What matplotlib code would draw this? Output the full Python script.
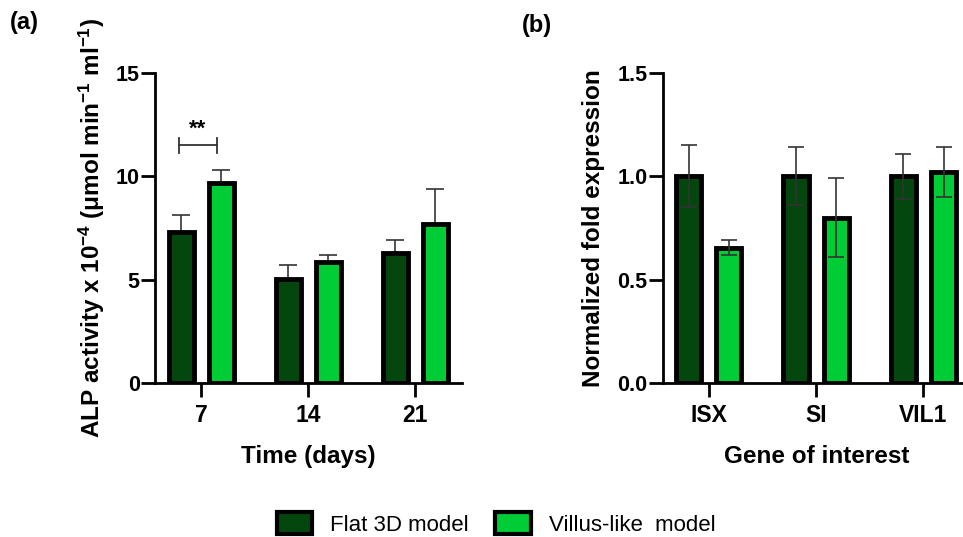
import numpy as np
import matplotlib
matplotlib.use("Agg")
import matplotlib.pyplot as plt
from matplotlib.patches import Patch

plt.rcParams['font.family'] = ['Liberation Sans', 'DejaVu Sans']
plt.rcParams['mathtext.fontset'] = 'custom'
plt.rcParams['mathtext.rm'] = 'Liberation Sans:bold'
plt.rcParams['mathtext.it'] = 'Liberation Sans:bold'
plt.rcParams['mathtext.bf'] = 'Liberation Sans:bold'
plt.rcParams['mathtext.default'] = 'rm'

# panel (a): ALP activity
days = ['7', '14', '21']
alp_flat = [7.3, 5.03, 6.3]
alp_flat_err = [0.85, 0.68, 0.62]
alp_villus = [9.7, 5.85, 7.7]
alp_villus_err = [0.62, 0.32, 1.7]

# panel (b): gene expression
genes = ['ISX', 'SI', 'VIL1']
gene_flat = [1.0, 1.0, 1.0]
gene_flat_err = [0.15, 0.14, 0.11]
gene_villus = [0.655, 0.80, 1.02]
gene_villus_err = [0.035, 0.19, 0.12]

dark = '#03470f'
light = '#00cc35'
labels = ['Flat 3D model', 'Villus-like  model']

fig = plt.figure(figsize=(9.63, 5.37), dpi=100)
ax1 = fig.add_axes([0.161, 0.2868, 0.319, 0.5773])
ax2 = fig.add_axes([0.688, 0.2868, 0.320, 0.5773])

off = 0.187
w = 0.234


def style(ax):
    for s in ['top', 'right']:
        ax.spines[s].set_visible(False)
    for s in ['left', 'bottom']:
        ax.spines[s].set_linewidth(2)
    ax.tick_params(width=2, length=10)
    ax.tick_params(axis='x', pad=5, labelsize=16.5)
    ax.tick_params(axis='y', pad=1, labelsize=15.5)
    for t in ax.get_xticklabels() + ax.get_yticklabels():
        t.set_fontweight('bold')
    ax.set_xlim(-0.43, 2.44)


x = np.arange(len(days))
ax1.bar(x - off, alp_flat, w, color=dark, edgecolor='black', linewidth=3.5, zorder=2)
ax1.bar(x + off, alp_villus, w, color=light, edgecolor='black', linewidth=3.5, zorder=2)
ax1.errorbar(x - off, alp_flat, yerr=[np.zeros(3), alp_flat_err], fmt='none',
             ecolor='#333333', elinewidth=1.2, capsize=6.5, capthick=1.2, zorder=1)
ax1.errorbar(x + off, alp_villus, yerr=[np.zeros(3), alp_villus_err], fmt='none',
             ecolor='#333333', elinewidth=1.2, capsize=6.5, capthick=1.2, zorder=1)
ax1.set_ylim(0, 15)
ax1.set_yticks([0, 5, 10, 15])
ax1.set_xticks(x)
ax1.set_xticklabels(days)
style(ax1)
ax1.set_xlabel('Time (days)', fontsize=17.5, fontweight='bold', labelpad=13)
ax1.set_ylabel('ALP activity x 10$^{-4}$ ($\\mu$mol min$^{-1}$ ml$^{-1}$)',
               fontsize=17.5, fontweight='bold', labelpad=6)

# significance bracket
ax1.plot([-0.21, 0.15], [11.5, 11.5], color='#333333', lw=1.3)
ax1.plot([-0.21, -0.21], [11.15, 11.85], color='#333333', lw=1.3)
ax1.plot([0.15, 0.15], [11.15, 11.85], color='#333333', lw=1.3)
ax1.text(-0.03, 11.75, '**', ha='center', va='bottom', fontsize=16, fontweight='bold')

x2 = np.arange(len(genes))
ax2.bar(x2 - off, gene_flat, w, color=dark, edgecolor='black', linewidth=3.5, zorder=1)
ax2.bar(x2 + off, gene_villus, w, color=light, edgecolor='black', linewidth=3.5, zorder=1)
ax2.errorbar(x2 - off, gene_flat, yerr=gene_flat_err, fmt='none',
             ecolor='#333333', elinewidth=1.2, capsize=6, capthick=1.2, zorder=2)
ax2.errorbar(x2 + off, gene_villus, yerr=gene_villus_err, fmt='none',
             ecolor='#333333', elinewidth=1.2, capsize=6, capthick=1.2, zorder=2)
ax2.set_ylim(0, 1.5)
ax2.set_yticks([0.0, 0.5, 1.0, 1.5])
ax2.set_yticklabels(['0.0', '0.5', '1.0', '1.5'])
ax2.set_xticks(x2)
ax2.set_xticklabels(genes)
style(ax2)
ax2.set_xlabel('Gene of interest', fontsize=17.5, fontweight='bold', labelpad=13)
ax2.set_ylabel('Normalized fold expression', fontsize=17.5, fontweight='bold', labelpad=9)

fig.text(0.010, 0.958, '(a)', fontsize=17, fontweight='bold', ha='left', va='center')
fig.text(0.542, 0.952, '(b)', fontsize=17, fontweight='bold', ha='left', va='center')

handles = [Patch(facecolor=dark, edgecolor='black', linewidth=3),
           Patch(facecolor=light, edgecolor='black', linewidth=3)]
fig.legend(handles, labels, loc='center', bbox_to_anchor=(0.515, 0.025), ncol=2,
           frameon=False, fontsize=16, handlelength=1.6, handleheight=1.2,
           columnspacing=1.2, handletextpad=0.8)

fig.savefig('out.png', dpi=100)
